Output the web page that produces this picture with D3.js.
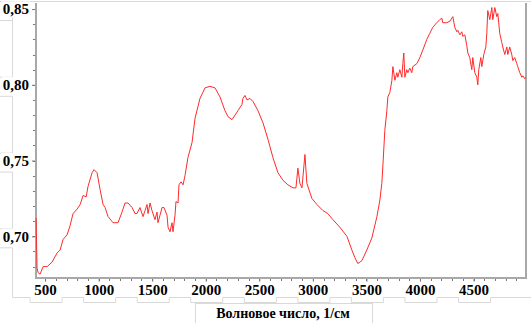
<!DOCTYPE html>
<html><head><meta charset="utf-8">
<script src="https://cdn.jsdelivr.net/npm/d3@7"></script>
<style>html,body{margin:0;padding:0;background:#fff;}svg{display:block;}</style>
</head><body>
<svg id="c" width="531" height="323"></svg>
<script>
const wavenumbers = [416,420,425,435,453,481,519,565,612,640,668,705,733,761,799,827,855,883,901,939,957,985,1013,1041,1060,1088,1134,1181,1218,1246,1274,1312,1340,1358,1386,1414,1433,1452,1461,1480,1498,1526,1545,1554,1573,1592,1610,1638,1648,1666,1685,1694,1713,1722,1741,1750,1769,1788,1806,1834,1872,1900,1946,1993,2039,2086,2133,2179,2207,2245,2273,2301,2338,2347,2366,2385,2413,2441,2487,2534,2581,2627,2674,2721,2767,2814,2842,2860,2879,2898,2926,2944,2991,3038,3094,3140,3187,3252,3318,3364,3392,3420,3458,3504,3551,3598,3626,3644,3654,3672,3691,3700,3719,3738,3747,3766,3784,3793,3812,3831,3840,3849,3859,3877,3887,3905,3924,3933,3971,3999,4027,4064,4092,4120,4157,4185,4204,4213,4251,4279,4307,4325,4344,4353,4372,4391,4400,4419,4437,4447,4465,4484,4493,4512,4531,4540,4549,4568,4577,4596,4615,4624,4633,4652,4671,4680,4699,4717,4727,4745,4764,4773,4792,4811,4820,4838,4857,4867,4885,4904,4913,4932,4951,4960,4979,4988];
const intensity = [0.712,0.696,0.679,0.676,0.675,0.680,0.680,0.683,0.689,0.691,0.698,0.701,0.707,0.715,0.718,0.721,0.727,0.726,0.733,0.742,0.744,0.742,0.731,0.721,0.719,0.713,0.709,0.709,0.716,0.722,0.722,0.719,0.715,0.715,0.719,0.713,0.717,0.721,0.715,0.722,0.717,0.711,0.716,0.709,0.714,0.719,0.719,0.714,0.706,0.703,0.709,0.703,0.714,0.723,0.722,0.734,0.736,0.734,0.740,0.752,0.762,0.778,0.791,0.798,0.799,0.798,0.792,0.783,0.779,0.777,0.780,0.783,0.787,0.791,0.793,0.790,0.791,0.789,0.783,0.775,0.764,0.752,0.742,0.737,0.734,0.732,0.732,0.745,0.735,0.732,0.754,0.735,0.725,0.721,0.717,0.715,0.711,0.706,0.700,0.691,0.686,0.682,0.684,0.691,0.699,0.713,0.724,0.735,0.747,0.770,0.783,0.792,0.795,0.803,0.812,0.803,0.808,0.805,0.810,0.805,0.814,0.821,0.805,0.810,0.808,0.811,0.808,0.812,0.814,0.818,0.823,0.830,0.834,0.838,0.841,0.843,0.844,0.841,0.841,0.842,0.845,0.838,0.835,0.836,0.833,0.835,0.832,0.833,0.826,0.821,0.818,0.810,0.818,0.808,0.805,0.800,0.810,0.818,0.812,0.820,0.825,0.834,0.849,0.843,0.851,0.843,0.851,0.845,0.847,0.834,0.828,0.825,0.820,0.825,0.820,0.825,0.820,0.816,0.818,0.814,0.812,0.808,0.805,0.806,0.804,0.805];
const xTickValues = [500,1000,1500,2000,2500,3000,3500,4000,4500];
const yTickValues = [0.70,0.75,0.80,0.85];
const xTitle = "Волновое число, 1/см";

const svg = d3.select("#c");
const L = 36, R = 526, T = 3, B = 278;
const x = d3.scaleLinear().domain([415, 4990]).range([L, R]);
const y = d3.scaleLinear().domain([0.6725, 0.854]).range([B, T]);
const fmt = d => d3.format(".2f")(d).replace(".", ",");
const font = "'Liberation Serif','Times New Roman',serif";
const frame = "#d9d9d9";

// decorative label-frame lines
const yBoxes = yTickValues.map(v => [y(v) - 8, y(v) + 11]);
let p = d3.path();
p.moveTo(0, 1.5); p.lineTo(531, 1.5);
yBoxes.sort((a,b)=>a[0]-b[0]).forEach((b, i) => {
  p.moveTo(0, b[0] + 0.5); p.lineTo(12.5, b[0] + 0.5);
  p.moveTo(0, b[1] + 0.5); p.lineTo(12.5, b[1] + 0.5);
});
p.moveTo(12.5, Math.max(0, yBoxes[0][1]) + 0.5);
yBoxes.forEach((b, i) => {
  p.lineTo(12.5, b[0] + 0.5);
  p.moveTo(12.5, b[1] + 0.5);
});
p.lineTo(12.5, 297.5);
let cx = 12.5;
xTickValues.forEach(v => {
  const c = x(v);
  p.moveTo(cx, 297.5); p.lineTo(c - 15, 297.5); p.lineTo(c - 15, 302.5); p.lineTo(c + 17, 302.5); p.lineTo(c + 17, 297.5);
  cx = c + 17;
});
p.lineTo(531, 297.5);
svg.append("path").attr("d", p.toString()).attr("fill", "none").attr("stroke", frame).attr("stroke-width", 1);

svg.append("rect").attr("x", 195.5).attr("y", 303.5).attr("width", 177).attr("height", 25)
  .attr("fill", "#fff").attr("stroke", frame);

svg.append("line").attr("x1", R).attr("x2", R).attr("y1", T).attr("y2", B).attr("stroke", "#a8a8a8").attr("stroke-width", 2);

const yMinor = d3.range(0.68, 0.8501, 0.01);
svg.append("g").selectAll("line").data(yMinor).join("line")
  .attr("x1", L - 3).attr("x2", L).attr("y1", d => Math.round(y(d)) + 0.5).attr("y2", d => Math.round(y(d)) + 0.5)
  .attr("stroke", "#777");
const xMinor = d3.range(500, 4901, 100);
svg.append("g").selectAll("line").data(xMinor).join("line")
  .attr("y1", B).attr("y2", B + 3).attr("x1", d => Math.round(x(d)) + 0.5).attr("x2", d => Math.round(x(d)) + 0.5)
  .attr("stroke", "#777");

const yAxis = d3.axisLeft(y).tickValues(yTickValues).tickFormat(fmt).tickSize(4).tickPadding(3);
const gy = svg.append("g").attr("transform", `translate(${L},0)`).call(yAxis);
const xAxis = d3.axisBottom(x).tickValues(xTickValues).tickFormat(d3.format("d")).tickSize(4).tickPadding(2);
const gx = svg.append("g").attr("transform", `translate(0,${B})`).call(xAxis);
[gx, gy].forEach(g => {
  g.select(".domain").remove();
  g.selectAll(".tick line").attr("stroke", "#777");
  g.selectAll("text").attr("font-family", font).attr("font-weight", "bold").attr("font-size", 15).attr("fill", "#000");
});
gy.selectAll(".tick text").each(function(){
  const bb = this.getBBox();
  d3.select(this.parentNode).insert("rect", "text").attr("x", bb.x - 1).attr("y", bb.y).attr("width", bb.width + 2).attr("height", bb.height).attr("fill", "#fff");
});
gx.selectAll(".tick text").each(function(){
  const bb = this.getBBox();
  d3.select(this.parentNode).insert("rect", "text").attr("x", bb.x - 1).attr("y", bb.y).attr("width", bb.width + 2).attr("height", bb.height - 2).attr("fill", "#fff");
});
svg.append("line").attr("x1", L).attr("x2", L).attr("y1", T).attr("y2", B + 1).attr("stroke", "#a8a8a8").attr("stroke-width", 2);
svg.append("line").attr("x1", L - 1).attr("x2", R + 1).attr("y1", B).attr("y2", B).attr("stroke", "#a8a8a8").attr("stroke-width", 2);

svg.append("text").attr("x", 283).attr("y", 318).attr("text-anchor", "middle")
  .attr("font-family", font).attr("font-weight", "bold").attr("font-size", 14).attr("fill", "#000").text(xTitle);

const data = wavenumbers.map((w, i) => [w, intensity[i]]);
svg.append("path").datum(data)
  .attr("fill", "none").attr("stroke", "#ff2a2a").attr("stroke-width", 1).attr("stroke-linejoin", "round")
  .attr("d", d3.line().x(d => x(d[0])).y(d => y(d[1])));
</script>
</body></html>
